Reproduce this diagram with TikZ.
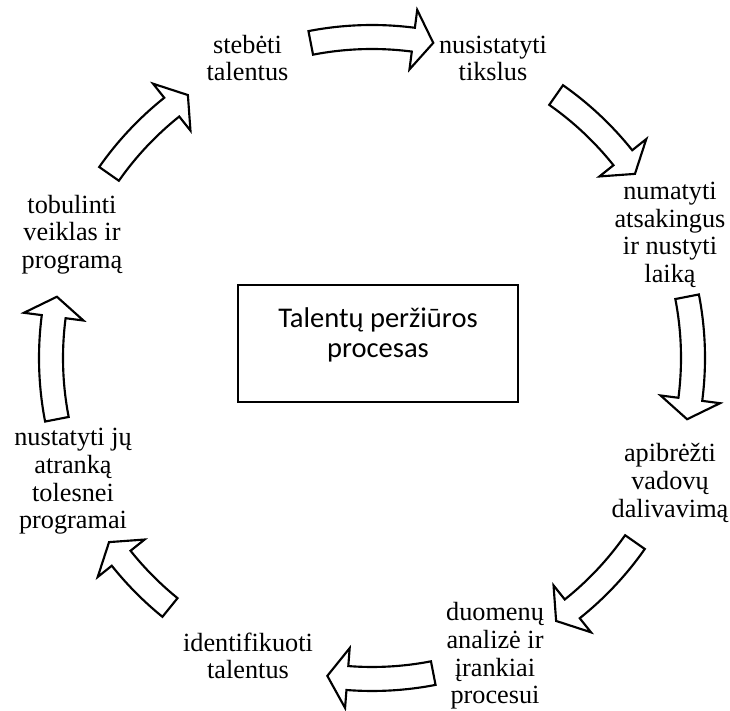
\documentclass[tikz,border=0pt]{standalone}
\usepackage{fontspec}
\setmainfont{Liberation Serif}
\newfontfamily\labelfont{Liberation Serif}
\newfontfamily\boxfont{Carlito}
\usepackage{tikz}
\usetikzlibrary{positioning}
\tikzset{
  steplabel/.style={align=center, inner sep=0pt, font=\labelfont\fontsize{19.7}{20.8}\selectfont},
  titlebox/.style={draw, line width=0.8pt, minimum width=210pt, minimum height=87.75pt, align=center, text depth=16pt, font=\boxfont\fontsize{21.4}{22.5}\selectfont},
  blockarrow/.style={draw, line width=1.6pt, line join=miter, fill=white}
}

\begin{document}
\begin{tikzpicture}[x=0.75pt, y=0.75pt]
  \useasboundingbox (0,0) rectangle (730,710);
  \coordinate (hub) at (372,352);

  \node[titlebox] (title) at (378,366.5) {Talentų peržiūros\\procesas};

  \node[steplabel] (watch) at (247.5,652) {stebėti\\talentus};
  \node[steplabel] (goals) at (493,651.5) {nusistatyti\\tikslus};
  \node[steplabel] (owners) at (670,475) {numatyti\\atsakingus\\ir nustyti\\laiką};
  \node[steplabel] (leaders) at (670,227) {apibrėžti\\vadovų\\dalivavimą};
  \node[steplabel] (data) at (495,54) {duomenų\\analizė ir\\įrankiai\\procesui};
  \node[steplabel] (identify) at (248,54) {identifikuoti\\talentus};
  \node[steplabel] (select) at (73,228.5) {nustatyti jų\\atranką\\tolesnei\\programai};
  \node[steplabel] (improve) at (72,475.5) {tobulinti\\veiklas ir\\programą};

  % curved block arrows round the hub: tail angle / tip angle
  \foreach \s/\e in {101/79, 55/35, 11/-11, -35/-55, -79/-98, -129/-145, 191/169, 145/125} {
    \draw[blockarrow, shift={(hub)}]
      (\s:333) arc[start angle=\s, end angle={\e+3.6}, radius=333]
      -- ({\e+3.6}:351) -- (\e:321) -- ({\e+3.6}:291) -- ({\e+3.6}:309)
      arc[start angle={\e+3.6}, end angle=\s, radius=309] -- cycle;
  }
\end{tikzpicture}
\end{document}
